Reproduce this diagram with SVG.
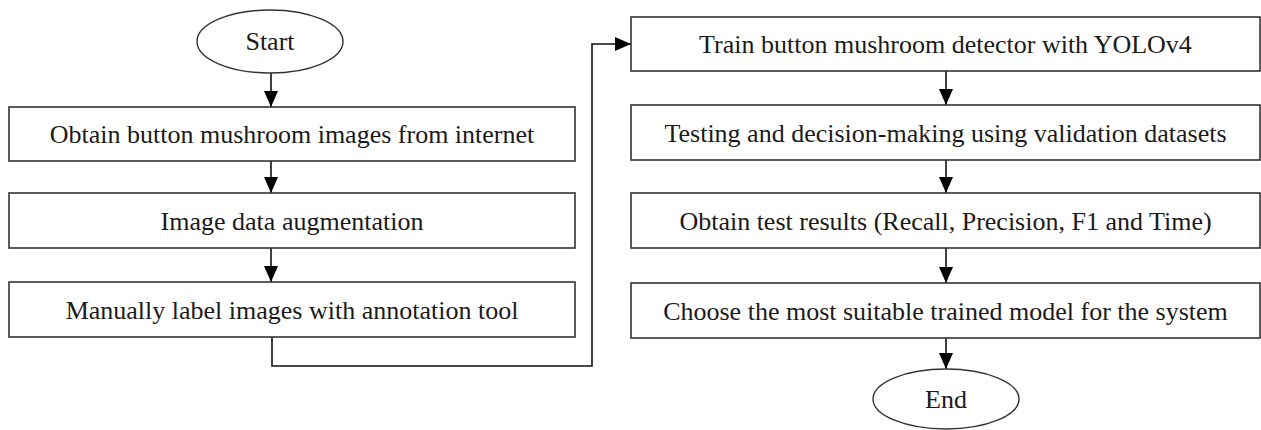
<svg xmlns="http://www.w3.org/2000/svg" width="1261" height="430" viewBox="0 0 1261 430">
<defs>
<style>
.box{fill:#fff;stroke:#333;stroke-width:1.6}
.term{fill:#fff;stroke:#333;stroke-width:1.4}
.lbl{font-family:"Liberation Serif","Times New Roman",serif;font-size:26px;fill:#1a1a1a;text-anchor:middle}
.conn{fill:none;stroke:#111;stroke-width:1.6}
</style>
<marker id="ah" markerUnits="userSpaceOnUse" markerWidth="16" markerHeight="14" refX="16" refY="7" orient="auto">
<path d="M0,0 L16,7 L0,14 z" fill="#000"/>
</marker>
</defs>
<rect width="1261" height="430" fill="#fff"/>
<g id="connectors">
<line class="conn" x1="271" y1="73" x2="271" y2="107" marker-end="url(#ah)"/>
<line class="conn" x1="271" y1="161" x2="271" y2="193" marker-end="url(#ah)"/>
<line class="conn" x1="271" y1="248" x2="271" y2="282" marker-end="url(#ah)"/>
<polyline class="conn" points="272,337 272,366 592,366 592,44 631,44" marker-end="url(#ah)"/>
<line class="conn" x1="946" y1="71" x2="946" y2="105" marker-end="url(#ah)"/>
<line class="conn" x1="946" y1="160" x2="946" y2="193" marker-end="url(#ah)"/>
<line class="conn" x1="946" y1="248" x2="946" y2="283" marker-end="url(#ah)"/>
<line class="conn" x1="946" y1="338" x2="946" y2="369" marker-end="url(#ah)"/>
</g>
<g id="start">
<ellipse class="term" cx="270" cy="41.5" rx="73" ry="31.5"/>
<text class="lbl" x="270" y="50">Start</text>
</g>
<g id="obtain-images">
<rect class="box" x="9" y="107" width="566" height="54"/>
<text class="lbl" x="292" y="143">Obtain button mushroom images from internet</text>
</g>
<g id="augmentation">
<rect class="box" x="9" y="193" width="566" height="55"/>
<text class="lbl" x="292" y="229.5">Image data augmentation</text>
</g>
<g id="label-images">
<rect class="box" x="9" y="282" width="566" height="55"/>
<text class="lbl" x="292" y="318.5">Manually label images with annotation tool</text>
</g>
<g id="train">
<rect class="box" x="631" y="17" width="629" height="54"/>
<text class="lbl" x="945.5" y="53">Train button mushroom detector with YOLOv4</text>
</g>
<g id="testing">
<rect class="box" x="631" y="105" width="629" height="55"/>
<text class="lbl" x="945.5" y="141.5">Testing and decision-making using validation datasets</text>
</g>
<g id="results">
<rect class="box" x="631" y="193" width="629" height="55"/>
<text class="lbl" x="945.5" y="229.5">Obtain test results (Recall, Precision, F1 and Time)</text>
</g>
<g id="choose">
<rect class="box" x="631" y="283" width="629" height="55"/>
<text class="lbl" x="945.5" y="319.5">Choose the most suitable trained model for the system</text>
</g>
<g id="end">
<ellipse class="term" cx="946" cy="399" rx="73" ry="30"/>
<text class="lbl" x="946" y="408">End</text>
</g>
</svg>
